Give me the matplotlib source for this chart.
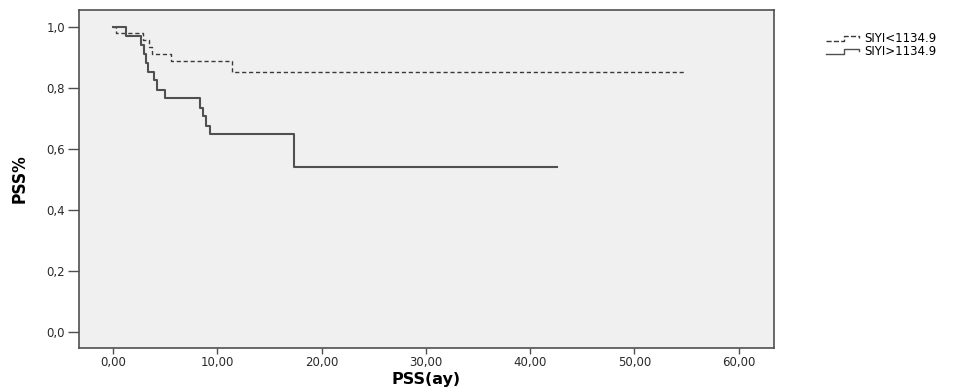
import matplotlib
matplotlib.use("Agg")
import matplotlib.pyplot as plt
from matplotlib.legend_handler import HandlerBase
from matplotlib.lines import Line2D

plt.rcParams['font.family'] = ['DejaVu Sans']

# Kaplan-Meier step data (time in months, survival proportion)
low_times = [0.0, 0.3, 2.9, 3.5, 3.7, 5.6, 11.4, 55.0]
low_surv = [1.0, 0.978, 0.956, 0.933, 0.911, 0.888, 0.853, 0.853]
high_times = [0.0, 1.2, 2.7, 3.0, 3.2, 3.4, 3.9, 4.2, 5.0, 8.3, 8.6, 8.9, 9.3, 17.4, 42.6]
high_surv = [1.0, 0.971, 0.941, 0.912, 0.882, 0.853, 0.824, 0.794, 0.765, 0.735, 0.706, 0.676, 0.647, 0.539, 0.539]
labels = ['SIYI<1134.9', 'SIYI>1134.9']
xticks = [0, 10, 20, 30, 40, 50, 60]
yticks = [0.0, 0.2, 0.4, 0.6, 0.8, 1.0]

fig = plt.figure(figsize=(9.66, 3.92), dpi=100)
ax = fig.add_axes([79 / 966, 1 - 347.7 / 392, (774 - 79) / 966, (347.7 - 10) / 392])
ax.set_facecolor('#f0f0f0')

l1, = ax.step(low_times, low_surv, where='post', color='#3a3a3a', lw=1.0,
              linestyle=(0, (3, 2)))
l2, = ax.step(high_times, high_surv, where='post', color='#505050', lw=1.5)

ax.set_xlim(-3.26, 63.4)
ax.set_ylim(-0.052, 1.055)
ax.set_xticks(xticks)
ax.set_xticklabels([f"{v:.2f}".replace('.', ',') for v in xticks])
ax.set_yticks(yticks)
ax.set_yticklabels([f"{v:.1f}".replace('.', ',') for v in yticks])
ax.tick_params(direction='out', width=1, color='#505050',
               labelsize=8.5, labelcolor='#2a2a2a')
ax.tick_params(axis='x', length=4, pad=2)
ax.tick_params(axis='y', length=8, pad=2)
for s in ax.spines.values():
    s.set_color('#505050')
    s.set_linewidth(1.2)

ax.set_xlabel('PSS(ay)', fontsize=11.5, fontweight='bold')
ax.xaxis.set_label_coords(0.5, -0.072)
ax.set_ylabel('PSS%', fontsize=12.5, fontweight='bold', fontstretch='condensed',
              family=['DejaVu Sans'])
ax.yaxis.set_label_coords(-0.073, 0.5)


class StepHandler(HandlerBase):
    def create_artists(self, legend, orig_handle, xdescent, ydescent,
                       width, height, fontsize, trans):
        x0 = -xdescent
        y0 = -ydescent + height * 0.1
        y1 = -ydescent + height * 0.75
        xs = [x0, x0 + width * 0.5, x0 + width * 0.5, x0 + width * 0.92, x0 + width * 0.92]
        ys = [y0, y0, y1, y1, y0 + height * 0.4]
        ln = Line2D(xs, ys, color=orig_handle.get_color(),
                    linestyle=orig_handle.get_linestyle(), lw=1.0)
        ln.set_transform(trans)
        return [ln]


fig.legend([l1, l2], labels, loc='upper left', bbox_to_anchor=(826 / 966, 1 - 32 / 392),
           frameon=False, fontsize=8.5, handlelength=3.0, handletextpad=0.2,
           labelspacing=0.0, borderaxespad=0, borderpad=0,
           handler_map={l1: StepHandler(), l2: StepHandler()})

fig.savefig('out.png', dpi=100)
